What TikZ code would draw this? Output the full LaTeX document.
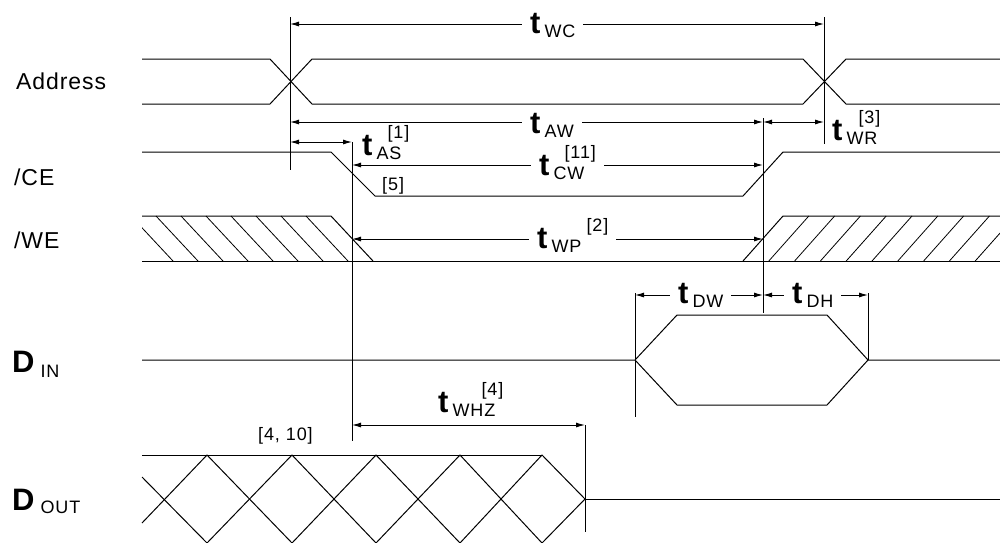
\documentclass[tikz,border=0pt]{standalone}
\usepackage{fontspec}
\setmainfont{Liberation Sans}
\newfontfamily\lbl[LetterSpace=5]{Liberation Sans}
\newfontfamily\namefnt[LetterSpace=4]{Liberation Sans}
\usetikzlibrary{arrows.meta}

\newcommand{\subfnt}{\normalfont\lbl\fontsize{18}{18}\selectfont}
\newcommand{\supfnt}{\normalfont\lbl\fontsize{18}{18}\selectfont}
\newcommand{\tbig}{{\bfseries\fontsize{31}{31}\selectfont t}\kern4pt}
\newcommand{\tsub}[1]{\tbig\raisebox{-4pt}{\subfnt #1}}
\newcommand{\tsubsup}[3]{\tbig\rlap{\raisebox{-4pt}{\subfnt #1}}\kern#3\raisebox{17pt}{\supfnt #2}}

\begin{document}
\begin{tikzpicture}[x=1pt, y=-1pt,
    sig/.style={line width=1pt},
    guide/.style={line width=1pt},
    hatch/.style={line width=0.8pt},
    dim/.style={{Latex[length=9pt,width=5pt]}-{Latex[length=9pt,width=5pt]}, line width=1pt},
    signame/.style={font=\normalfont\namefnt\fontsize{23}{23}\selectfont, inner sep=0pt, anchor=base west},
    bigname/.style={font=\bfseries\fontsize{31}{31}\selectfont, inner sep=0pt, anchor=base west},
    tlab/.style={inner ysep=0pt, inner xsep=8pt, anchor=base west},
    gaplab/.style={tlab, fill=white},
    note/.style={font=\supfnt, inner sep=0pt, anchor=base west}
]
\useasboundingbox (0,0) rectangle (1000,542);

% signal names
\node[signame] (addr) at (16,89) {Address};
\node[signame] (ce) at (14,185) {/CE};
\node[signame] (we) at (14,248) {/WE};
\node[bigname] (din) at (12,372) {D\kern6pt\raisebox{-5pt}{\subfnt IN}};
\node[bigname] (dout) at (12,510) {D\kern6pt\raisebox{-3pt}{\subfnt OUT}};

% Address
\draw[sig] (142,59) -- (270,59) -- (312,104) -- (803,104) -- (846,59) -- (1000,59);
\draw[sig] (142,104) -- (270,104) -- (312,59) -- (803,59) -- (846,104) -- (1000,104);

% /CE
\draw[sig] (142,152) -- (331,152) -- (375,196) -- (743,196) -- (783,152) -- (1000,152);

% /WE
\draw[sig] (142,261) -- (1000,261);
\draw[sig] (142,216) -- (331,216) -- (373,261);
\draw[sig] (743,261) -- (783,216) -- (1000,216);
\begin{scope}
  \clip (142,210) rectangle (1000,265);
  \foreach \x in {131,156,...,306}
    \draw[hatch] (\x,216) -- ++(42,45);
  \foreach \i in {1,...,10}
    \draw[hatch] ({743+25.8*\i},261) -- ++(40,-45);
\end{scope}

% D IN
\draw[sig] (142,360) -- (635,360) -- (677,315) -- (827,315) -- (868,360) -- (1000,360);
\draw[sig] (635,360) -- (677,405) -- (827,405) -- (868,360);

% D OUT
\draw[sig] (142,455) -- (542,455);
\draw[sig] (142,523) -- (207,455) -- (292,543) -- (376,455) -- (460,543) -- (542,455) -- (585,499);
\draw[sig] (142,477) -- (207,543) -- (292,455) -- (376,543) -- (460,455) -- (542,543) -- (585,499);
\draw[sig] (585,499) -- (1000,499);

% guide lines
\draw[guide] (290,17) -- (290,170);
\draw[guide] (824,17) -- (824,144);
\draw[guide] (352,142) -- (352,441);
\draw[guide] (763,118) -- (763,313);
\draw[guide] (635,293) -- (635,417);
\draw[guide] (868,293) -- (868,360);
\draw[guide] (585,425) -- (585,532);

% timing parameters
\coordinate (wcL) at (290,24);  \coordinate (wcR) at (824,24);
\coordinate (awL) at (290,122); \coordinate (awR) at (763,122);
\coordinate (wrR) at (824,122);
\coordinate (asL) at (290,142); \coordinate (asR) at (352,142);
\coordinate (cwL) at (352,165); \coordinate (cwR) at (763,165);
\coordinate (wpL) at (352,239); \coordinate (wpR) at (763,239);
\coordinate (dwL) at (635,295); \coordinate (dwR) at (763,295);
\coordinate (dhR) at (868,295);
\coordinate (hzL) at (352,425); \coordinate (hzR) at (585,425);

\draw[dim] (wcL) -- (wcR);
\draw[dim] (awL) -- (awR);
\draw[dim] (awR) -- (wrR);
\draw[dim] (asL) -- (asR);
\draw[dim] (cwL) -- (cwR);
\draw[dim] (wpL) -- (wpR);
\draw[dim] (dwL) -- (dwR);
\draw[dim] (dwR) -- (dhR);
\draw[dim] (hzL) -- (hzR);

\node[gaplab] (wc) at (522,33) {\tsub{WC}};
\node[gaplab] (aw) at (522,133) {\tsub{AW}};
\node[gaplab] (cw) at (531,175) {\tsubsup{CW}{[11]}{11pt}};
\node[gaplab] (wp) at (529,248) {\tsubsup{WP}{[2]}{35pt}};
\node[gaplab] (dw) at (670,303) {\tsub{DW}};
\node[gaplab] (dh) at (784,303) {\tsub{DH}};
\node[tlab] (as) at (354,155) {\tsubsup{AS}{[1]}{11pt}};
\node[tlab] (wr) at (824,140) {\tsubsup{WR}{[3]}{12pt}};
\node[tlab] (whz) at (430,412) {\tsubsup{WHZ}{[4]}{29pt}};

% notes
\node[note] (n5) at (382,190) {[5]};
\node[note] (n410) at (258,440) {[4, 10]};
\end{tikzpicture}
\end{document}
